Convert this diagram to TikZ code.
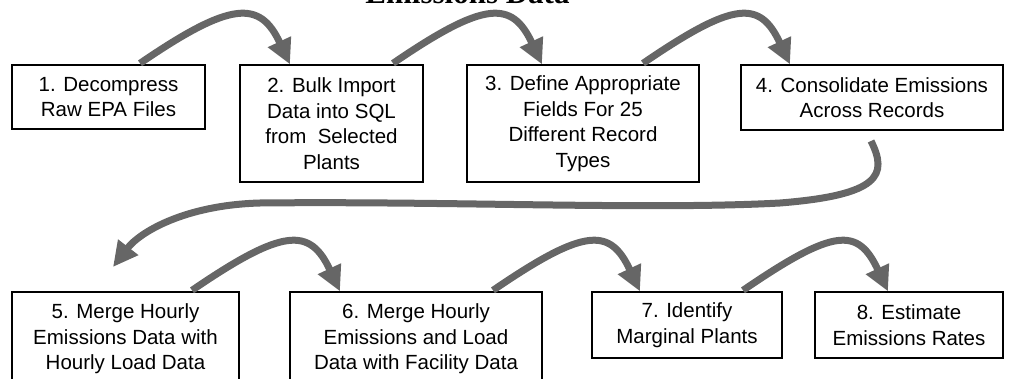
\documentclass[tikz,border=0pt]{standalone}
\usepackage{fontspec}
\setmainfont{Liberation Sans}
\newfontfamily\titlefam{Liberation Serif}
\usetikzlibrary{arrows.meta}
\definecolor{arrowgray}{HTML}{666666}
\tikzset{
  stepbox/.style={draw=black, line width=1.3pt, inner sep=0pt, align=center,
    font=\fontsize{20.5}{25.5}\selectfont},
  flow/.style={draw=arrowgray, line width=7pt,
    -{Triangle[length=25pt,width=24pt]}},
}
\begin{document}
\begin{tikzpicture}[x=1pt,y=-1pt]
\useasboundingbox (0,0) rectangle (1012,379);
\clip (0,0) rectangle (1012,379);
\node[font=\titlefam\bfseries\fontsize{31}{36}\selectfont, anchor=base] (title) at (467.5,4) {Emissions Data};
% top row
\node[stepbox, minimum width=193pt, minimum height=64pt] (b1) at (108.5,97) {1. Decompress\\Raw EPA Files};
\node[stepbox, minimum width=183pt, minimum height=117pt] (b2) at (331.5,123.5) {2. Bulk Import\\Data into SQL\\from\ \ Selected\\Plants};
\node[stepbox, minimum width=232pt, minimum height=117pt] (b3) at (583,123.5) {3. Define Appropriate\\Fields For 25\\Different Record\\Types};
\node[stepbox, minimum width=262pt, minimum height=65pt] (b4) at (872,97.5) {4. Consolidate Emissions\\Across Records};
% bottom row
\node[stepbox, minimum width=227pt, minimum height=94pt] (b5) at (125.5,339) {5. Merge Hourly\\Emissions Data with\\Hourly Load Data};
\node[stepbox, minimum width=252pt, minimum height=94pt] (b6) at (416,339) {6. Merge Hourly\\Emissions and Load\\Data with Facility Data};
\node[stepbox, minimum width=190pt, minimum height=66pt] (b7) at (687,325) {7. Identify\\Marginal Plants};
\node[stepbox, minimum width=188pt, minimum height=66pt] (b8) at (909,325) {8. Estimate\\Emissions Rates};
% arcs
\draw[flow] ([xshift=31.5pt,yshift=1pt]b1.north) .. controls +(92,-63) and +(-30,-64) .. ([xshift=-41.5pt]b2.north);
\draw[flow] ([xshift=61.5pt,yshift=1pt]b2.north) .. controls +(92,-63) and +(-30,-64) .. ([xshift=-41pt]b3.north);
\draw[flow] ([xshift=60pt,yshift=1pt]b3.north) .. controls +(92,-63) and +(-30,-64) .. ([xshift=-82pt]b4.north);
\draw[flow] ([xshift=66.5pt,yshift=1pt]b5.north) .. controls +(92,-63) and +(-30,-64) .. ([xshift=-76pt]b6.north);
\draw[flow] ([xshift=77pt,yshift=1pt]b6.north) .. controls +(92,-63) and +(-30,-64) .. ([xshift=-47pt]b7.north);
\draw[flow] ([xshift=56pt,yshift=1pt]b7.north) .. controls +(92,-63) and +(-30,-64) .. ([xshift=-21pt]b8.north);
% long return arrow
\coordinate (a4s) at (871,141);
\coordinate (a4e) at (113,267);
\draw[flow] (a4s) .. controls (888,175) and (880,195) .. (780,203)
  .. controls (650,210) and (450,201) .. (260,203)
  .. controls (185,205) and (140,232) .. (a4e);
\end{tikzpicture}
\end{document}
